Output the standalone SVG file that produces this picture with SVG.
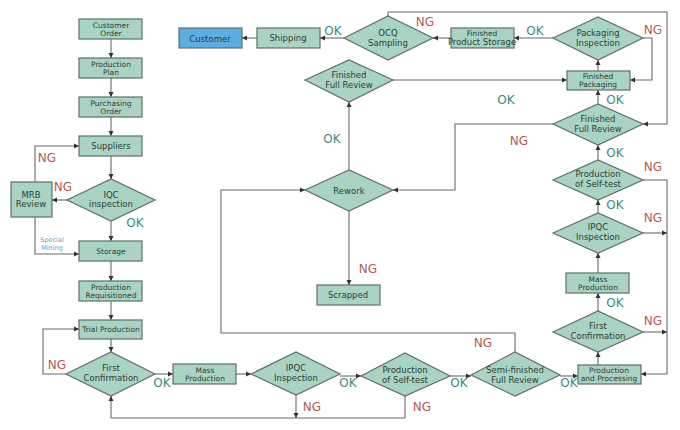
<svg xmlns="http://www.w3.org/2000/svg" width="680" height="430" viewBox="0 0 680 430">
<defs>
<marker id="a" markerWidth="6" markerHeight="6" refX="5" refY="3" orient="auto" markerUnits="userSpaceOnUse"><path d="M0,0.5 L5,3 L0,5.5 Z" fill="#333"/></marker>
<style>
.b{fill:#a9d4c3;stroke:#5f6f68;stroke-width:1.2}
.t{font-family:"DejaVu Sans",sans-serif;font-size:8.5px;fill:#2d3d37;text-anchor:middle}
.s{font-size:7.5px}
.c{fill:none;stroke:#6a6a6a;stroke-width:1.1;marker-end:url(#a)}
.n{fill:none;stroke:#6a6a6a;stroke-width:1.1}
.ok{font-family:"DejaVu Sans",sans-serif;font-size:12px;fill:#3a8a7c;text-anchor:middle}
.ng{font-family:"DejaVu Sans",sans-serif;font-size:12px;fill:#b35a55;text-anchor:middle}
</style>
</defs>
<rect width="680" height="430" fill="#fff"/>
<g id="connectors">
<path class="c" d="M111,39V58"/><path class="c" d="M111,78V97"/><path class="c" d="M111,117V136"/><path class="c" d="M111,156V179"/>
<path class="c" d="M67,200H52"/><path class="c" d="M35,182V146H79"/><path class="c" d="M35,217V254H79"/>
<path class="c" d="M111,221V241"/><path class="c" d="M111,261V281"/><path class="c" d="M111,301V320"/><path class="c" d="M111,339V352"/>
<path class="c" d="M66,374H43V329H79"/>
<path class="c" d="M155,374H173"/><path class="c" d="M236,374H251"/><path class="c" d="M340,376H361"/><path class="c" d="M450,376H471"/><path class="c" d="M560,376H578"/>
<path class="c" d="M296,395V418"/><path class="n" d="M405,396V418H111"/><path class="c" d="M111,418V396"/>
<path class="c" d="M598,365V352"/><path class="c" d="M598,311V293"/><path class="c" d="M598,273V253"/><path class="c" d="M598,213V200"/><path class="c" d="M598,160V145"/><path class="c" d="M598,104V90"/><path class="c" d="M598,71V60"/>
<path class="c" d="M643,332H667"/><path class="c" d="M643,233H667"/><path class="c" d="M643,180H667V374H641"/>
<path class="c" d="M643,38H652V80H630"/>
<path class="c" d="M553,38H514"/><path class="c" d="M451,38H433"/><path class="c" d="M344,38H320"/><path class="c" d="M257,38H242"/>
<path class="c" d="M388,16V12H667V124H643"/>
<path class="c" d="M393,80H567"/><path class="c" d="M349,170V102"/>
<path class="c" d="M553,124H455V190H393"/>
<path class="c" d="M349,211V285"/>
<path class="c" d="M515,352V333H221V190H305"/>
</g>
<g id="labels">
<text class="ng" x="47" y="162">NG</text><text class="ng" x="63" y="191">NG</text><text class="ok" x="135" y="227">OK</text>
<text x="52" y="242" font-family="DejaVu Sans,sans-serif" font-size="6.5" fill="#5aa0c8" text-anchor="middle">Special</text>
<text x="52" y="250" font-family="DejaVu Sans,sans-serif" font-size="6.5" fill="#5aa0c8" text-anchor="middle">Mining</text>
<text class="ng" x="57" y="369">NG</text><text class="ok" x="162" y="387">OK</text>
<text class="ng" x="312" y="411">NG</text><text class="ok" x="348" y="387">OK</text>
<text class="ng" x="422" y="411">NG</text><text class="ok" x="459" y="387">OK</text><text class="ok" x="569" y="387">OK</text>
<text class="ng" x="483" y="347">NG</text>
<text class="ng" x="653" y="325">NG</text><text class="ok" x="615" y="307">OK</text>
<text class="ng" x="653" y="222">NG</text><text class="ok" x="615" y="209">OK</text>
<text class="ng" x="653" y="171">NG</text><text class="ok" x="615" y="157">OK</text>
<text class="ok" x="615" y="104">OK</text>
<text class="ng" x="519" y="145">NG</text><text class="ok" x="506" y="104">OK</text>
<text class="ok" x="332" y="143">OK</text><text class="ng" x="368" y="273">NG</text>
<text class="ng" x="653" y="34">NG</text><text class="ok" x="535" y="35">OK</text>
<text class="ng" x="425" y="26">NG</text><text class="ok" x="333" y="35">OK</text>
</g>
<g id="customer-order"><rect class="b" x="79" y="19" width="63" height="20"/><text class="t s" x="111" y="28">Customer</text><text class="t s" x="111" y="36">Order</text></g>
<g id="production-plan"><rect class="b" x="79" y="58" width="63" height="20"/><text class="t s" x="111" y="67">Production</text><text class="t s" x="111" y="75">Plan</text></g>
<g id="purchasing-order"><rect class="b" x="79" y="97" width="63" height="20"/><text class="t s" x="111" y="106">Purchasing</text><text class="t s" x="111" y="114">Order</text></g>
<g id="suppliers"><rect class="b" x="79" y="136" width="63" height="20"/><text class="t" x="111" y="149">Suppliers</text></g>
<g id="iqc"><path class="b" d="M67,200L111,179L155,200L111,221Z"/><text class="t" x="111" y="198">IQC</text><text class="t" x="111" y="207">inspection</text></g>
<g id="mrb"><rect class="b" x="11" y="182" width="41" height="35"/><text class="t" x="31" y="198">MRB</text><text class="t" x="31" y="207">Review</text></g>
<g id="storage"><rect class="b" x="79" y="241" width="63" height="20"/><text class="t s" x="111" y="254">Storage</text></g>
<g id="production-requisitioned"><rect class="b" x="79" y="281" width="63" height="20"/><text class="t s" x="111" y="290">Production</text><text class="t s" x="111" y="298">Requisitioned</text></g>
<g id="trial-production"><rect class="b" x="79" y="320" width="63" height="19"/><text class="t s" x="111" y="332">Trial Production</text></g>
<g id="first-confirmation-1"><path class="b" d="M66,374L111,352L155,374L111,396Z"/><text class="t" x="111" y="371">First</text><text class="t" x="111" y="381">Confirmation</text></g>
<g id="mass-production-1"><rect class="b" x="173" y="364" width="63" height="20"/><text class="t s" x="205" y="373">Mass</text><text class="t s" x="205" y="381">Production</text></g>
<g id="ipqc-1"><path class="b" d="M251,374L296,352L340,374L296,395Z"/><text class="t" x="296" y="371">IPQC</text><text class="t" x="296" y="381">Inspection</text></g>
<g id="self-test-1"><path class="b" d="M361,376L405,353L450,376L405,396Z"/><text class="t" x="405" y="373">Production</text><text class="t" x="405" y="383">of Self-test</text></g>
<g id="semi-finished"><path class="b" d="M471,375L515,352L560,375L515,396Z"/><text class="t" x="515" y="373">Semi-finished</text><text class="t" x="515" y="383">Full Review</text></g>
<g id="production-processing"><rect class="b" x="578" y="365" width="63" height="19"/><text class="t s" x="609" y="373">Production</text><text class="t s" x="609" y="381">and Processing</text></g>
<g id="first-confirmation-2"><path class="b" d="M553,332L598,311L643,332L598,352Z"/><text class="t" x="598" y="329">First</text><text class="t" x="598" y="339">Confirmation</text></g>
<g id="mass-production-2"><rect class="b" x="566" y="273" width="63" height="20"/><text class="t s" x="598" y="282">Mass</text><text class="t s" x="598" y="290">Production</text></g>
<g id="ipqc-2"><path class="b" d="M553,233L598,213L643,233L598,253Z"/><text class="t" x="598" y="230">IPQC</text><text class="t" x="598" y="240">Inspection</text></g>
<g id="self-test-2"><path class="b" d="M553,180L598,160L643,180L598,200Z"/><text class="t" x="598" y="177">Production</text><text class="t" x="598" y="187">of Self-test</text></g>
<g id="finished-review-right"><path class="b" d="M553,124L598,104L643,124L598,145Z"/><text class="t" x="598" y="122">Finished</text><text class="t" x="598" y="132">Full Review</text></g>
<g id="finished-packaging"><rect class="b" x="567" y="71" width="63" height="19"/><text class="t s" x="598" y="79">Finished</text><text class="t s" x="598" y="87">Packaging</text></g>
<g id="packaging-inspection"><path class="b" d="M553,38L598,17L643,38L598,60Z"/><text class="t" x="598" y="36">Packaging</text><text class="t" x="598" y="46">Inspection</text></g>
<g id="finished-product-storage"><rect class="b" x="451" y="28" width="63" height="20"/><text class="t s" x="482" y="36">Finished</text><text class="t" x="482" y="45" font-size="6.4">Product Storage</text></g>
<g id="ocq"><path class="b" d="M344,38L388,16L433,38L388,60Z"/><text class="t" x="388" y="36">OCQ</text><text class="t" x="388" y="46">Sampling</text></g>
<g id="shipping"><rect class="b" x="257" y="28" width="63" height="20"/><text class="t" x="288" y="41">Shipping</text></g>
<g id="customer"><rect x="179" y="28" width="63" height="20" fill="#5aaee2" stroke="#5f6f68" stroke-width="1.2"/><text class="t" x="210" y="42" font-size="9.5">Customer</text></g>
<g id="finished-review-left"><path class="b" d="M305,80L349,60L393,80L349,102Z"/><text class="t" x="349" y="78">Finished</text><text class="t" x="349" y="88">Full Review</text></g>
<g id="rework"><path class="b" d="M305,190L349,170L393,190L349,211Z"/><text class="t" x="349" y="194" font-size="10">Rework</text></g>
<g id="scrapped"><rect class="b" x="317" y="285" width="63" height="20"/><text class="t" x="348" y="298">Scrapped</text></g>
</svg>
